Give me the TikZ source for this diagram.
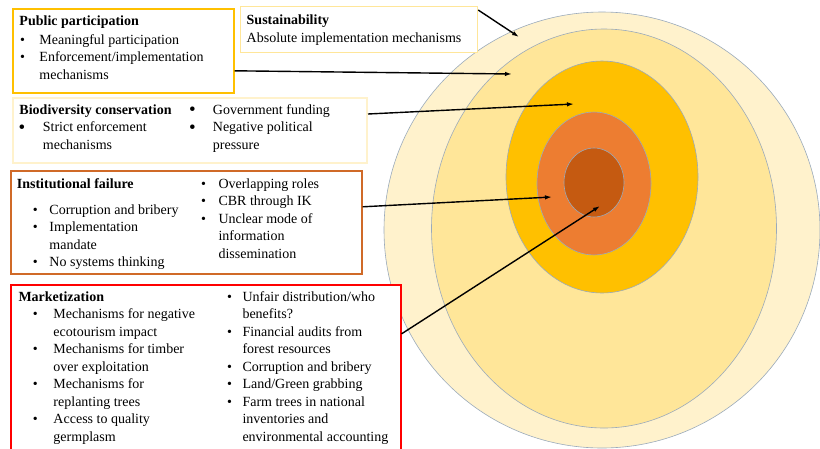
\documentclass[tikz,border=0pt]{standalone}
\usepackage{fontspec}
\usepackage{array}
\setmainfont{Liberation Serif}
\usetikzlibrary{arrows.meta}
\definecolor{ringA}{HTML}{FFF2CC}
\definecolor{ringB}{HTML}{FFE699}
\definecolor{ringC}{HTML}{FFC000}
\definecolor{ringD}{HTML}{ED7D31}
\definecolor{ringE}{HTML}{C55A11}
\definecolor{ringline}{HTML}{9AAABB}
\definecolor{instcol}{HTML}{D06A28}
\newcolumntype{B}[2]{@{\hspace*{#1}}w{l}{#2}@{}l@{}}
\newcommand{\ttl}[1]{\multicolumn{2}{@{}l@{}}{\textbf{#1}}}
\newcommand{\bdot}{\textbullet}
\newcommand{\bigdot}{\raisebox{-1.8pt}{\fontsize{19}{19}\selectfont\textbullet}}
\begin{document}
\begin{tikzpicture}[x=1pt,y=-1pt,
  box/.style={draw, fill=white, line width=1.6pt, inner sep=0pt, anchor=north west},
  txt/.style={anchor=base west, inner sep=0pt, font=\fontsize{14}{17.5}\selectfont},
  ring/.style={draw=ringline, line width=0.6pt},
  arr/.style={-{Latex[length=7pt,width=4.5pt]}, line width=1.4pt}]
\useasboundingbox (0,0) rectangle (820,448);
\def\ringone{(602,230) ellipse [x radius=218pt, y radius=218pt]}
\def\ringtwo{(604,228.5) ellipse [x radius=172.5pt, y radius=199.5pt]}
\def\ringthree{(602,177) ellipse [x radius=96pt, y radius=116pt]}
\def\ringfour{(594,183.5) ellipse [x radius=57pt, y radius=71.5pt]}
\def\ringfive{(594,182.5) ellipse [x radius=30pt, y radius=34.5pt]}
\draw[ring, fill=ringA] \ringone;
\draw[ring, fill=ringB] \ringtwo;
\draw[ring, fill=ringC] \ringthree;
\draw[ring, fill=ringD] \ringfour;
\draw[ring, fill=ringE] \ringfive;

\node[box, draw=ringC, minimum width=221pt, minimum height=84pt] (pp) at (12,8) {};
\node[box, draw=ringB, line width=1.2pt, minimum width=237pt, minimum height=46pt] (su) at (240,6) {};
\node[box, draw=ringA, line width=2pt, minimum width=354pt, minimum height=65pt] (bd) at (12,97) {};
\node[box, draw=instcol, minimum width=351pt, minimum height=103pt] (inst) at (10,170) {};
\node[box, draw=red, minimum width=390pt, minimum height=170pt] (mk) at (10,284) {};

\node[txt] (pptxt) at (19.3,25) {\begin{tabular}[t]{B{0.55pt}{19.45pt}}
  \ttl{Public participation}\\[1.5pt]
  \bdot & Meaningful participation\\
  \bdot & Enforcement/implementation\\
        & mechanisms
  \end{tabular}};
\node[txt] (sutxt) at (246.5,24) {\begin{tabular}[t]{@{}l@{}}
  \textbf{Sustainability}\\[1pt]
  Absolute implementation mechanisms
  \end{tabular}};
\node[txt] (bdleft) at (19.3,114) {\begin{tabular}[t]{B{-1pt}{24.4pt}}
  \ttl{Biodiversity conservation}\\
  \bigdot & Strict enforcement\\
          & mechanisms
  \end{tabular}};
\node[txt] (bdright) at (189,114) {\begin{tabular}[t]{B{0pt}{23.7pt}}
  \bigdot & Government funding\\
  \bigdot & Negative political\\
          & pressure
  \end{tabular}};
\node[txt] (instleft) at (16.7,188) {\begin{tabular}[t]{B{15.85pt}{16.75pt}}
  \ttl{Institutional failure}\\[8.5pt]
  \bdot & Corruption and bribery\\
  \bdot & Implementation\\
        & mandate\\
  \bdot & No systems thinking
  \end{tabular}};
\node[txt] (instright) at (200.85,188) {\begin{tabular}[t]{B{0pt}{17.45pt}}
  \bdot & Overlapping roles\\
  \bdot & CBR through IK\\
  \bdot & Unclear mode of\\
        & information\\
        & dissemination
  \end{tabular}};
\node[txt] (mkleft) at (18.3,301) {\begin{tabular}[t]{B{14.25pt}{20.75pt}}
  \ttl{Marketization}\\
  \bdot & Mechanisms for negative\\
        & ecotourism impact\\
  \bdot & Mechanisms for timber\\
        & over exploitation\\
  \bdot & Mechanisms for\\
        & replanting trees\\
  \bdot & Access to quality\\
        & germplasm
  \end{tabular}};
\node[txt] (mkright) at (226.85,301) {\begin{tabular}[t]{B{0pt}{15.45pt}}
  \bdot & Unfair distribution/who\\
        & benefits?\\
  \bdot & Financial audits from\\
        & forest resources\\
  \bdot & Corruption and bribery\\
  \bdot & Land/Green grabbing\\
  \bdot & Farm trees in national\\
        & inventories and\\
        & environmental accounting
  \end{tabular}};

\coordinate (suend) at (519,37);
\coordinate (ppend) at (512,74);
\coordinate (bdend) at (574,104);
\coordinate (instend) at (552,197);
\coordinate (mkend) at (600,206);
\draw[arr] ([yshift=-4pt]su.north east) -- (suend);
\draw[arr] ([yshift=-20pt]pp.east) -- (ppend);
\draw[arr] ([yshift=16.5pt]bd.east) -- (bdend);
\draw[arr] ([yshift=15.5pt]inst.east) -- (instend);
\draw[arr] ([yshift=36pt]mk.east) -- (mkend);
\end{tikzpicture}
\end{document}
